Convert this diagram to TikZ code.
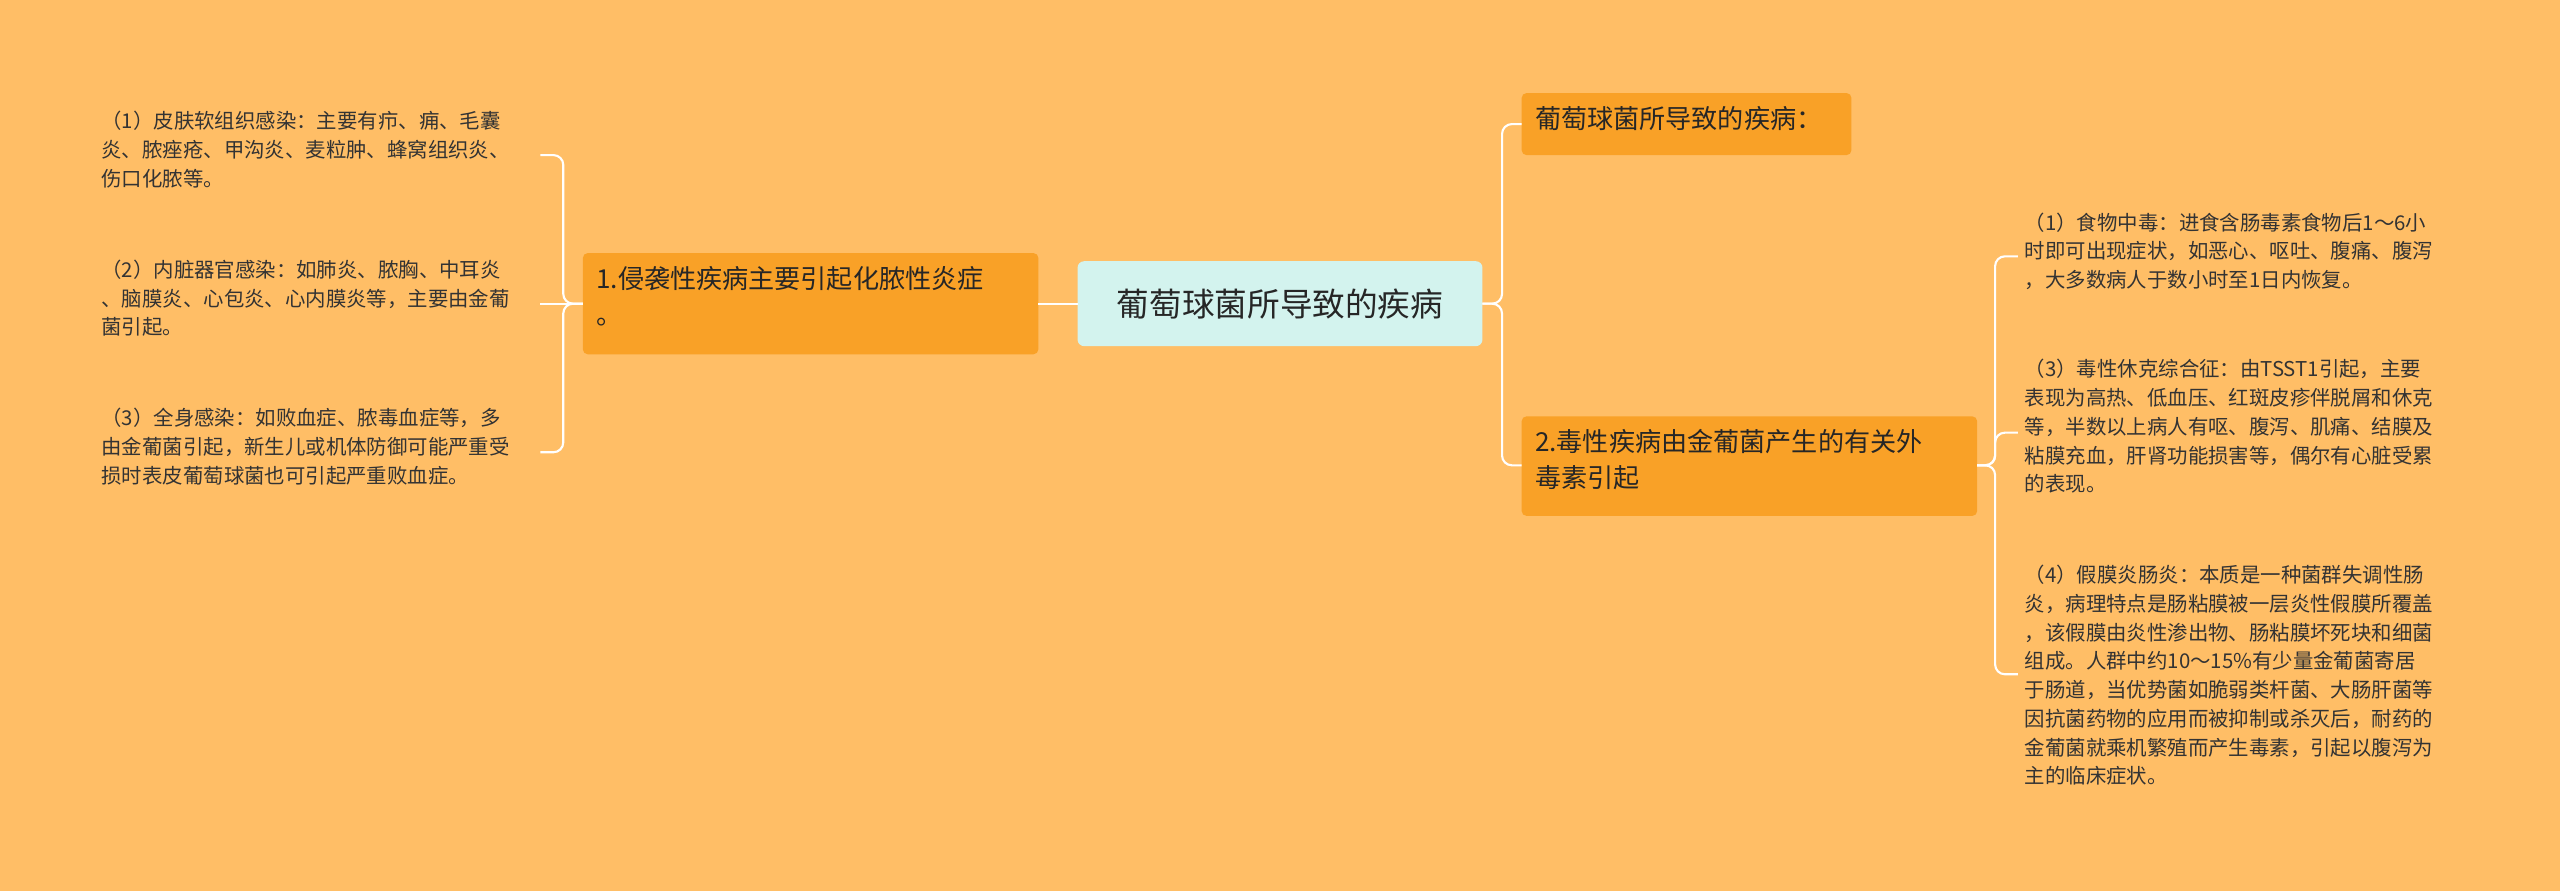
\documentclass[tikz,border=0pt]{standalone}
\usepackage{fontspec}
\setmainfont{Noto Sans CJK SC}
\begin{document}
\begin{tikzpicture}[x=1pt,y=-1pt,
  leaf/.style={anchor=north west,inner sep=0pt,align=left,text=black!80,font=\fontsize{12.5}{17.6}\selectfont},
  btext/.style={anchor=north west,inner sep=0pt,align=left,text=black!85,font=\fontsize{16}{22}\selectfont},
  conn/.style={draw=white,line width=1.3pt,rounded corners=6pt}]
\definecolor{bg}{HTML}{FFBE66}
\definecolor{brorange}{HTML}{F9A127}
\definecolor{center}{HTML}{D3F3EE}
\fill[bg] (0,0) rectangle (1568,546);
\useasboundingbox (0,0) rectangle (1568,546);
% center
\fill[center,rounded corners=4pt] (660,160) rectangle (908,212);
\node[inner sep=0pt,font=\fontsize{20}{24}\selectfont,text=black!85] (c) at (784,186) {葡萄球菌所导致的疾病};
\coordinate (cw) at (660,186); \coordinate (ce) at (908,186);
% left branch
\fill[brorange,rounded corners=3pt] (357,155) rectangle (636,217);
\node[btext] (l) at (365,163) {1.侵袭性疾病主要引起化脓性炎症\\。};
\coordinate (lw) at (357,186); \coordinate (le) at (636,186);
% right branches
\fill[brorange,rounded corners=3pt] (932,57) rectangle (1134,95);
\node[btext] (r1) at (940,65) {葡萄球菌所导致的疾病：};
\coordinate (r1w) at (932,76);
\fill[brorange,rounded corners=3pt] (932,255) rectangle (1211,316);
\node[btext] (r2) at (940,263) {2.毒性疾病由金葡菌产生的有关外\\毒素引起};
\coordinate (r2w) at (932,285); \coordinate (r2e) at (1211,285);
% left leaves
\node[leaf] (a1) at (62,68) {（1）皮肤软组织感染：主要有疖、痈、毛囊\\炎、脓痤疮、甲沟炎、麦粒肿、蜂窝组织炎、\\伤口化脓等。};
\node[leaf] (a2) at (62,159) {（2）内脏器官感染：如肺炎、脓胸、中耳炎\\、脑膜炎、心包炎、心内膜炎等，主要由金葡\\菌引起。};
\node[leaf] (a3) at (62,250) {（3）全身感染：如败血症、脓毒血症等，多\\由金葡菌引起，新生儿或机体防御可能严重受\\损时表皮葡萄球菌也可引起严重败血症。};
\coordinate (a1e) at (331,95); \coordinate (a2e) at (331,186); \coordinate (a3e) at (331,277);
% right leaves
\node[leaf] (b1) at (1240,130) {（1）食物中毒：进食含肠毒素食物后1～6小\\时即可出现症状，如恶心、呕吐、腹痛、腹泻\\，大多数病人于数小时至1日内恢复。};
\node[leaf] (b2) at (1240,220) {（3）毒性休克综合征：由TSST1引起，主要\\表现为高热、低血压、红斑皮疹伴脱屑和休克\\等，半数以上病人有呕、腹泻、肌痛、结膜及\\粘膜充血，肝肾功能损害等，偶尔有心脏受累\\的表现。};
\node[leaf] (b3) at (1240,346) {（4）假膜炎肠炎：本质是一种菌群失调性肠\\炎，病理特点是肠粘膜被一层炎性假膜所覆盖\\，该假膜由炎性渗出物、肠粘膜坏死块和细菌\\组成。人群中约10～15\%有少量金葡菌寄居\\于肠道，当优势菌如脆弱类杆菌、大肠肝菌等\\因抗菌药物的应用而被抑制或杀灭后，耐药的\\金葡菌就乘机繁殖而产生毒素，引起以腹泻为\\主的临床症状。};
\coordinate (b1w) at (1236,157); \coordinate (b2w) at (1236,265); \coordinate (b3w) at (1236,413);
% connectors
\draw[conn] (cw) -- (le);
\draw[conn] (lw) -- ++(-12,0) |- (a1e);
\draw[conn] (lw) -- ++(-12,0) |- (a3e);
\draw[conn] (lw) -- (a2e);
\draw[conn] (ce) -- ++(12,0) |- (r1w);
\draw[conn] (ce) -- ++(12,0) |- (r2w);
\draw[conn] (r2e) -- ++(11,0) |- (b1w);
\draw[conn] (r2e) -- ++(11,0) |- (b3w);
\draw[conn] (r2e) -- ++(11,0) |- (b2w);
\end{tikzpicture}
\end{document}
